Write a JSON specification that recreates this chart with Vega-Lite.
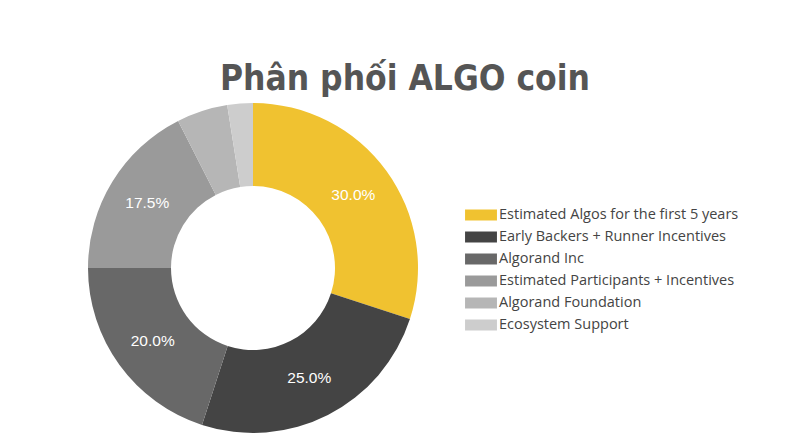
{
  "$schema": "https://vega.github.io/schema/vega-lite/v6.json",
  "autosize": "none",
  "width": 330,
  "height": 330,
  "padding": {"left": 88, "top": 103, "right": 382, "bottom": 15},
  "background": "white",
  "title": {
    "text": "Phân phối ALGO coin",
    "font": "'DejaVu Sans Condensed', 'Liberation Sans Narrow', sans-serif",
    "fontSize": 35,
    "fontWeight": "bold",
    "color": "#555555",
    "anchor": "start",
    "frame": "group",
    "dx": 132,
    "offset": 6
  },
  "config": {
    "view": {"stroke": null},
    "legend": {
      "labelFont": "Open Sans",
      "labelFontSize": 14.5,
      "labelColor": "#444444",
      "labelLimit": 320
    }
  },
  "data": {
    "values": [
      {"rank": 1, "group": "Estimated Algos for the first 5 years", "value": 0.30},
      {"rank": 2, "group": "Early Backers + Runner Incentives", "value": 0.25},
      {"rank": 3, "group": "Algorand Inc", "value": 0.20},
      {"rank": 4, "group": "Estimated Participants + Incentives", "value": 0.175},
      {"rank": 5, "group": "Algorand Foundation", "value": 0.05},
      {"rank": 6, "group": "Ecosystem Support", "value": 0.025}
    ]
  },
  "encoding": {
    "theta": {"field": "value", "type": "quantitative", "stack": true},
    "order": {"field": "rank", "type": "quantitative"}
  },
  "layer": [
    {
      "mark": {"type": "arc", "outerRadius": 165, "innerRadius": 82},
      "encoding": {
        "color": {
          "field": "group",
          "type": "nominal",
          "scale": {
            "domain": [
              "Estimated Algos for the first 5 years",
              "Early Backers + Runner Incentives",
              "Algorand Inc",
              "Estimated Participants + Incentives",
              "Algorand Foundation",
              "Ecosystem Support"
            ],
            "range": ["#f0c230", "#444444", "#686868", "#9a9a9a", "#b6b6b6", "#cdcdcd"]
          },
          "legend": {
            "title": null,
            "orient": "none",
            "legendX": 382,
            "legendY": 101,
            "symbolType": "M-1.45,-0.5L1.45,-0.5L1.45,0.5L-1.45,0.5Z",
            "symbolSize": 484,
            "symbolStrokeWidth": 0,
            "symbolOpacity": 1,
            "labelOffset": 7,
            "rowPadding": 4
          }
        }
      }
    },
    {
      "mark": {"type": "text", "radius": 124, "font": "Liberation Sans", "fontSize": 15.5, "color": "white"},
      "encoding": {
        "text": {"field": "value", "type": "quantitative", "format": ".1%"},
        "opacity": {"condition": {"test": "datum.value >= 0.1", "value": 1}, "value": 0}
      }
    }
  ]
}
